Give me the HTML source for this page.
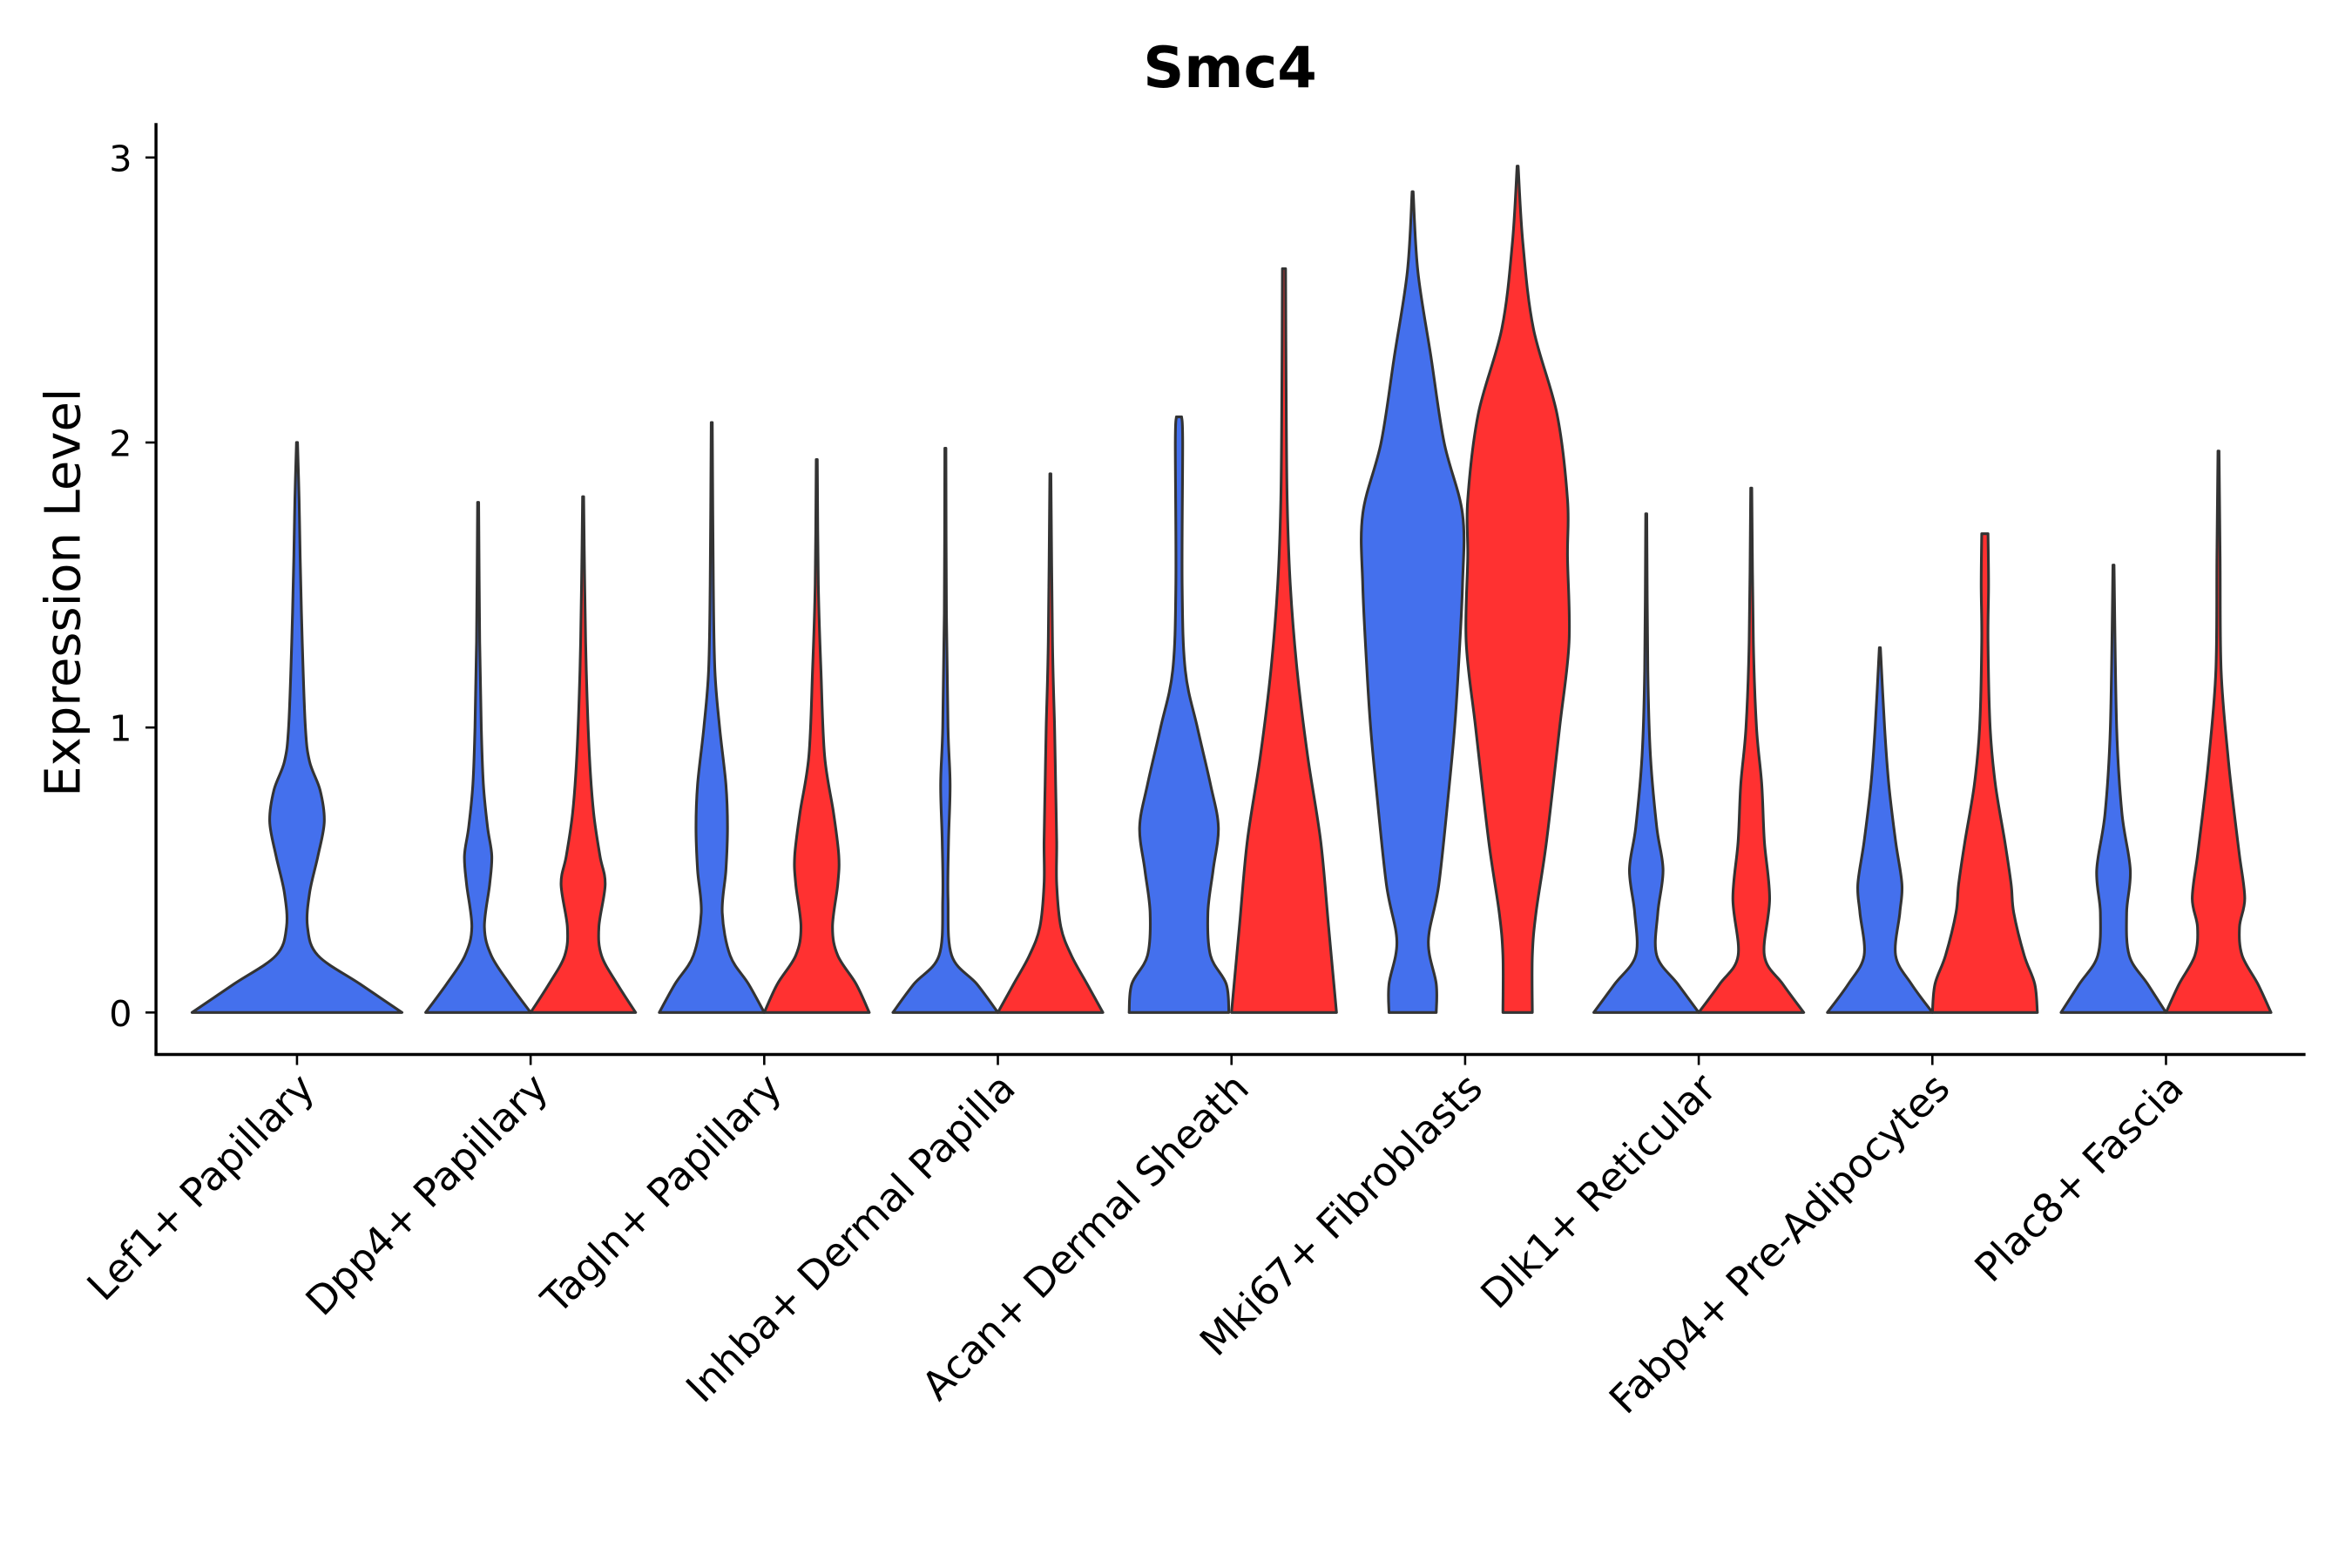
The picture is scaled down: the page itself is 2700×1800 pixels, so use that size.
<!DOCTYPE html>
<html><head><meta charset="utf-8"><style>
html,body{margin:0;padding:0;background:#fff}
svg{display:block}
text{font-family:"DejaVu Sans","Liberation Sans",sans-serif}
</style></head><body>
<svg id="chart" width="2700" height="1800" viewBox="0 0 1568 1045.33" xmlns="http://www.w3.org/2000/svg">
<rect width="1568" height="1046" fill="#fff"/>
<text x="820" y="58" text-anchor="middle" font-size="38" font-weight="bold">Smc4</text>
<g id="violins"></g>
<g id="axes"></g>
</svg>
<script>
const categories = ["Lef1+ Papillary","Dpp4+ Papillary","Tagln+ Papillary","Inhba+ Dermal Papilla","Acan+ Dermal Sheath","Mki67+ Fibroblasts","Dlk1+ Reticular","Fabp4+ Pre-Adipocytes","Plac8+ Fascia"];
const yTicks = [0,1,2,3];
// density profiles: [expression value, relative half-width]
const blueProfiles = [
 [[0,1],[0.1,0.6],[0.2,0.2],[0.3,0.1],[0.42,0.12],[0.55,0.2],[0.67,0.26],[0.78,0.22],[0.88,0.12],[1.0,0.08],[1.3,0.05],[1.6,0.03],[1.8,0.02],[2.0,0.005]],
 [[0,1],[0.1,0.6],[0.2,0.25],[0.3,0.12],[0.45,0.22],[0.55,0.26],[0.65,0.18],[0.8,0.1],[1.0,0.06],[1.3,0.03],[1.79,0.01]],
 [[0,1],[0.1,0.7],[0.2,0.35],[0.35,0.2],[0.5,0.27],[0.65,0.3],[0.8,0.27],[1.0,0.15],[1.2,0.06],[1.5,0.03],[2.07,0.01]],
 [[0,1],[0.1,0.6],[0.2,0.12],[0.4,0.05],[0.6,0.06],[0.8,0.09],[1.0,0.05],[1.4,0.02],[1.98,0.01]],
 [[0,0.95],[0.1,0.9],[0.2,0.6],[0.35,0.55],[0.5,0.65],[0.65,0.75],[0.8,0.6],[1.0,0.35],[1.2,0.12],[1.5,0.06],[2.0,0.07],[2.09,0.05]],
 [[0,0.45],[0.1,0.45],[0.25,0.3],[0.45,0.5],[0.8,0.7],[1.0,0.8],[1.2,0.87],[1.5,0.95],[1.75,0.95],[2.0,0.6],[2.3,0.35],[2.6,0.1],[2.88,0.01]],
 [[0,1],[0.1,0.6],[0.2,0.2],[0.35,0.22],[0.5,0.32],[0.65,0.2],[0.9,0.08],[1.2,0.03],[1.75,0.01]],
 [[0,1],[0.1,0.6],[0.2,0.3],[0.35,0.38],[0.45,0.42],[0.6,0.3],[0.8,0.17],[1.0,0.09],[1.28,0.01]],
 [[0,1],[0.1,0.65],[0.2,0.3],[0.35,0.25],[0.5,0.32],[0.7,0.16],[1.0,0.06],[1.57,0.01]]
];
const redProfiles = [
 null,
 [[0,1],[0.1,0.65],[0.2,0.35],[0.3,0.3],[0.45,0.42],[0.55,0.32],[0.7,0.2],[0.9,0.12],[1.2,0.06],[1.5,0.03],[1.81,0.01]],
 [[0,1],[0.1,0.75],[0.2,0.4],[0.3,0.3],[0.45,0.4],[0.55,0.42],[0.7,0.32],[0.9,0.15],[1.2,0.08],[1.5,0.03],[1.94,0.01]],
 [[0,1],[0.1,0.7],[0.2,0.4],[0.3,0.2],[0.45,0.12],[0.6,0.12],[0.8,0.1],[1.0,0.08],[1.3,0.04],[1.89,0.01]],
 [[0,1],[0.3,0.85],[0.6,0.7],[0.9,0.45],[1.2,0.25],[1.5,0.12],[1.8,0.06],[2.2,0.04],[2.61,0.03]],
 [[0,0.28],[0.2,0.28],[0.35,0.35],[0.6,0.55],[1.0,0.8],[1.3,0.98],[1.6,0.95],[1.8,0.95],[2.1,0.75],[2.4,0.3],[2.7,0.1],[2.97,0.01]],
 [[0,1],[0.1,0.6],[0.2,0.25],[0.4,0.35],[0.6,0.25],[0.8,0.2],[1.0,0.1],[1.3,0.04],[1.84,0.01]],
 [[0,1],[0.1,0.95],[0.2,0.75],[0.35,0.55],[0.45,0.5],[0.6,0.38],[0.8,0.2],[1.0,0.1],[1.3,0.06],[1.5,0.07],[1.68,0.06]],
 [[0,1],[0.1,0.75],[0.2,0.45],[0.3,0.4],[0.4,0.5],[0.55,0.4],[0.7,0.3],[0.9,0.18],[1.2,0.05],[1.6,0.03],[1.97,0.01]]
];
const NS="http://www.w3.org/2000/svg";
const xCenter = i => 198 + i*155.75;
const yScale = v => 675 - v*190;
function mk(tag, attrs, parent){const e=document.createElementNS(NS,tag);for(const k in attrs)e.setAttribute(k,attrs[k]);parent.appendChild(e);return e;}
const vg=document.getElementById('violins');
function smooth(pts){
  let d="";
  for(let i=0;i<pts.length-1;i++){
    const p0=pts[Math.max(i-1,0)],p1=pts[i],p2=pts[i+1],p3=pts[Math.min(i+2,pts.length-1)];
    const c1=[p1[0]+(p2[0]-p0[0])/6,p1[1]+(p2[1]-p0[1])/6];
    const c2=[p2[0]-(p3[0]-p1[0])/6,p2[1]-(p3[1]-p1[1])/6];
    d+="C"+c1[0].toFixed(2)+","+c1[1].toFixed(2)+" "+c2[0].toFixed(2)+","+c2[1].toFixed(2)+" "+p2[0].toFixed(2)+","+p2[1].toFixed(2);
  }
  return d;
}
function violinPath(cx, prof, half){
  const left=prof.map(p=>[cx-p[1]*half, yScale(p[0])]);
  const right=prof.map(p=>[cx+p[1]*half, yScale(p[0])]).reverse();
  return "M"+left[0][0].toFixed(2)+","+left[0][1].toFixed(2)+smooth(left)+"L"+right[0][0].toFixed(2)+","+right[0][1].toFixed(2)+smooth(right)+"Z";
}
categories.forEach((c,i)=>{
  const cx=xCenter(i);
  if(!redProfiles[i]){
    const p=mk('path',{d:violinPath(cx,blueProfiles[i],70),fill:'#4470ED',stroke:'#333','stroke-width':1.8,'stroke-linejoin':'round'},vg);
    
    
  } else {
    const p=mk('path',{d:violinPath(cx-35,blueProfiles[i],35),fill:'#4470ED',stroke:'#333','stroke-width':1.8,'stroke-linejoin':'round'},vg);
    
    
    const r=mk('path',{d:violinPath(cx+35,redProfiles[i],35),fill:'#FF3131',stroke:'#333','stroke-width':1.8,'stroke-linejoin':'round'},vg);
    
    
  }
});
const ax=document.getElementById('axes');
const yl=mk('line',{x1:104,y1:82,x2:104,y2:703,stroke:'#000','stroke-width':2},ax);


const xl=mk('line',{x1:103,y1:703,x2:1537,y2:703,stroke:'#000','stroke-width':2},ax);


yTicks.forEach(t=>{
  const y=yScale(t);
  const tk=mk('line',{x1:97,y1:y,x2:104,y2:y,stroke:'#000','stroke-width':1.5},ax);
  
  
  const tx=mk('text',{x:88,y:y+9,'text-anchor':'end','font-size':24},ax);
  tx.textContent=t;
  
  
});
categories.forEach((c,i)=>{
  const x=xCenter(i);
  const tk=mk('line',{x1:x,y1:703,x2:x,y2:710,stroke:'#000','stroke-width':1.5},ax);
  
  
  const tx=mk('text',{x:x+13,y:727,'text-anchor':'end','font-size':26.5,transform:`rotate(-45 ${x+13} 727)`},ax);
  tx.textContent=c;
  
  
});
const yt=mk('text',{x:53,y:395,'text-anchor':'middle','font-size':32.5,transform:'rotate(-90 53 395)'},ax);
yt.textContent='Expression Level';


</script>
</body></html>
